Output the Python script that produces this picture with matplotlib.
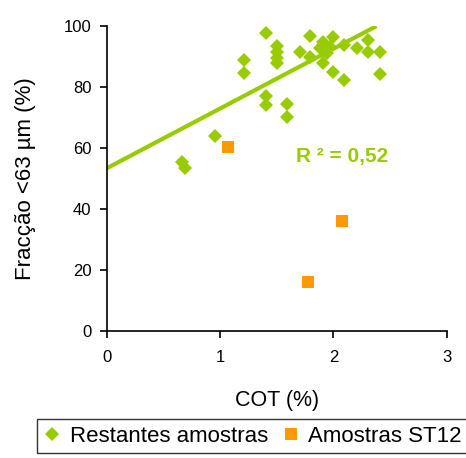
import numpy as np
import matplotlib
matplotlib.use("Agg")
import matplotlib.pyplot as plt

plt.rcParams['font.family'] = ['Liberation Sans', 'DejaVu Sans']

# Restantes amostras (COT %, fraccao <63 um %)
green_x = [0.66, 0.69, 0.96, 1.21, 1.21, 1.41, 1.41, 1.41, 1.50, 1.50, 1.50, 1.50,
           1.59, 1.59, 1.71, 1.79, 1.79, 1.88, 1.91, 1.91, 1.94, 1.97, 2.00, 2.00,
           2.09, 2.09, 2.21, 2.31, 2.31, 2.41, 2.41]
green_y = [55.6, 53.4, 64.0, 88.9, 84.8, 97.7, 77.1, 74.2, 93.5, 91.5, 89.5, 88.0,
           74.5, 70.3, 91.7, 96.8, 90.0, 92.8, 95.0, 88.0, 91.1, 93.3, 96.6, 85.1,
           93.9, 82.4, 92.8, 95.5, 91.7, 91.7, 84.5]

# Amostras ST12
orange_x = [1.07, 1.78, 2.08]
orange_y = [60.5, 16.2, 36.2]

# linha de tendencia
trend_slope = 19.6
trend_intercept = 53.4
trend_range = [0.0, 2.38]
r2_label = "R ² = 0,52"

green = '#99CC00'
orange = '#FF9900'

fig = plt.figure(figsize=(4.66, 4.58), dpi=100)
ax = fig.add_axes([0.229, 0.2773, 0.7295, 0.6653])

tx = np.array(trend_range)
ax.plot(tx, trend_slope * tx + trend_intercept, color=green, lw=3, zorder=2,
        solid_capstyle='butt')
ax.plot(green_x, green_y, 'D', color=green, ms=6.8, mew=0, zorder=3,
        label='Restantes amostras')
ax.plot(orange_x, orange_y, 's', color=orange, ms=8.5, mew=0, zorder=3,
        label='Amostras ST12')

ax.text(1.67, 57.3, r2_label, color=green, fontsize=15, fontweight='bold',
        va='center', ha='left')

ax.set_xlim(0, 3)
ax.set_ylim(0, 100)
ax.set_xticks([0, 1, 2, 3])
ax.set_yticks([0, 20, 40, 60, 80, 100])
ax.spines['top'].set_visible(False)
ax.spines['right'].set_visible(False)
for s in ['left', 'bottom']:
    ax.spines[s].set_linewidth(1.2)
ax.tick_params(direction='out', length=5, width=1.2, labelsize=12)
ax.tick_params(axis='y', pad=6)
ax.tick_params(axis='x', pad=9)

ax.set_xlabel('COT (%)', fontsize=15.5, labelpad=18)
ax.set_ylabel('Fracção <63 µm (%)', fontsize=16, labelpad=20)

leg = fig.legend(loc='upper left', bbox_to_anchor=(0.079, 1 - 419 / 458), ncol=2,
                 fontsize=16, frameon=True, fancybox=False, handlelength=0.8,
                 handletextpad=0.4, columnspacing=0.6, borderpad=0.3,
                 borderaxespad=0)
leg.get_frame().set_edgecolor('black')
leg.get_frame().set_linewidth(1.0)

fig.savefig('out.png', dpi=100)
